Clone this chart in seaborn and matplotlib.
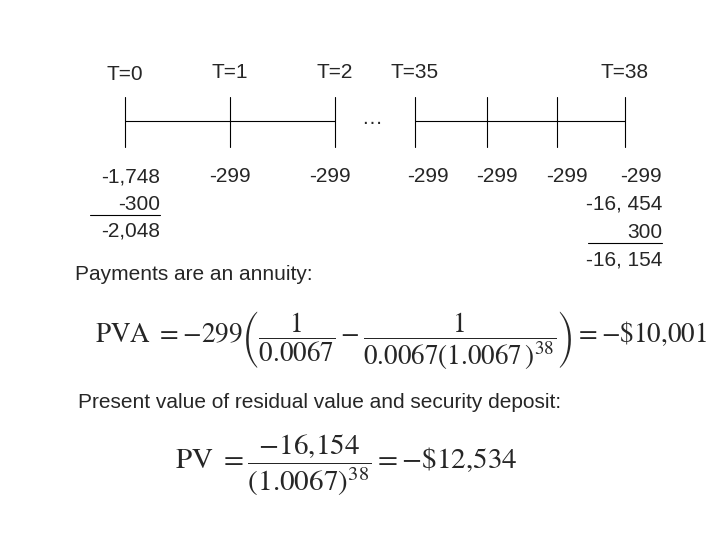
import matplotlib
matplotlib.use("Agg")
import matplotlib.pyplot as plt
import seaborn as sns

# data
period_labels = ["T=0", "T=1", "T=2", "T=35", "T=38"]
period_x = [125, 230, 335, 415, 625]
tick_x = [125, 230, 335, 415, 487, 557, 625]
payment_values = ["-299", "-299", "-299", "-299", "-299"]
payment_x = [230, 330, 428, 497, 567]
left_column = ["-1,748", "-300", "-2,048"]
right_column = ["-299", "-16, 454", "300", "-16, 154"]

sns.set_theme(style="white")
plt.rcParams['font.family'] = ['Liberation Sans', 'DejaVu Sans']
plt.rcParams['mathtext.fontset'] = 'stix'

fig = plt.figure(figsize=(7.2, 5.4), dpi=100)
ax = fig.add_axes([0, 0, 1, 1])
ax.set_xlim(0, 720)
ax.set_ylim(540, 0)
ax.axis("off")

fs = 15
for lab, x in zip(period_labels, period_x):
    y = 75 if lab == "T=0" else 72
    ax.text(x, y, lab, ha="center", va="center", fontsize=fs)

ax.plot([125, 335], [121, 121], color="black", lw=0.8)
ax.plot([415, 625], [121, 121], color="black", lw=0.8)
for x in tick_x:
    ax.plot([x, x], [97, 147], color="black", lw=0.8)
ax.text(372, 118, "…", ha="center", va="center", fontsize=fs)

for v, x in zip(payment_values, payment_x):
    ax.text(x, 177, v, ha="center", va="center", fontsize=fs)

for i, v in enumerate(left_column):
    ax.text(160, 177 + 27 * i, v, ha="right", va="center", fontsize=fs)
ax.plot([90, 160], [215, 215], color="black", lw=0.8)

for i, v in enumerate(right_column):
    ax.text(662, 177 + 27.5 * i, v, ha="right", va="center", fontsize=fs)
ax.plot([588, 662], [243, 243], color="black", lw=0.8)

ax.text(75, 274, "Payments are an annuity:", ha="left", va="center", fontsize=fs)
ax.text(95, 340,
        r"PVA $= \mathregular{-}299\left(\dfrac{1}{0.0067} - \dfrac{1}{0.0067(1.0067\,)^{38}}\right) = \mathregular{-}\$10{,}001$",
        ha="left", va="center", fontsize=19.5, family="STIXGeneral")
ax.text(78, 403, "Present value of residual value and security deposit:",
        ha="left", va="center", fontsize=fs)
ax.text(175, 465,
        r"PV $= \dfrac{-16{,}154}{(1.0067)^{38}} = -\$12{,}534$",
        ha="left", va="center", fontsize=21, family="STIXGeneral")

fig.savefig("out.png", dpi=100)
